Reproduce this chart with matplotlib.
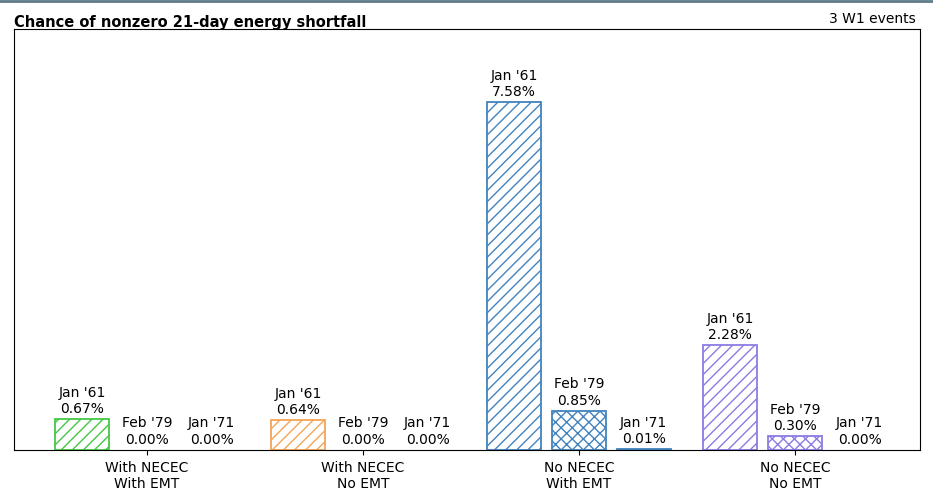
import numpy as np
import matplotlib.pyplot as plt
from matplotlib.lines import Line2D

scenarios = ['With NECEC\nWith EMT', 'With NECEC\nNo EMT', 'No NECEC\nWith EMT', 'No NECEC\nNo EMT']
events = ["Jan '61", "Feb '79", "Jan '71"]
chance = [
    [0.67, 0.00, 0.00],
    [0.64, 0.00, 0.00],
    [7.58, 0.85, 0.01],
    [2.28, 0.30, 0.00],
]
colors = ['#44c844', '#f5a455', '#4283be', '#8c7ce4']
hatches = ['///', 'xxx', '...']

plt.rcParams['hatch.linewidth'] = 1.0

fig = plt.figure(figsize=(9.33, 5.02), dpi=100)
ax = fig.add_axes([0.015, 0.102, 0.971, 0.838])

x = np.arange(len(scenarios))
width = 0.25
offsets = [-0.3, 0.0, 0.3]
for i, scen in enumerate(scenarios):
    for j, ev in enumerate(events):
        v = chance[i][j]
        # zero bars leave no visible outline in the original
        lw = 1.3 if v > 0 else 0
        ax.bar(x[i] + offsets[j], v, width, facecolor='none', edgecolor=colors[i],
               hatch=hatches[j], linewidth=lw)
        ax.annotate(f'{ev}\n{v:.2f}%', (x[i] + offsets[j], v), xytext=(0, 3),
                    textcoords='offset points', ha='center', va='bottom', fontsize=10)

ax.set_xticks(x)
ax.set_xticklabels(scenarios, fontsize=10)
ax.set_yticks([])
ax.set_xlim(-0.616, 3.579)
ax.set_ylim(0, 9.17)

fig.text(0.015, 0.955, 'Chance of nonzero 21-day energy shortfall', fontsize=10.5,
         fontweight='bold', ha='left', va='center')
fig.text(0.981, 0.962, '3 W1 events', fontsize=10, ha='right', va='center')
fig.add_artist(Line2D([0, 1], [0.997, 0.997], color='#5f7a8a', linewidth=2, transform=fig.transFigure))

fig.savefig('out.png', dpi=100)
